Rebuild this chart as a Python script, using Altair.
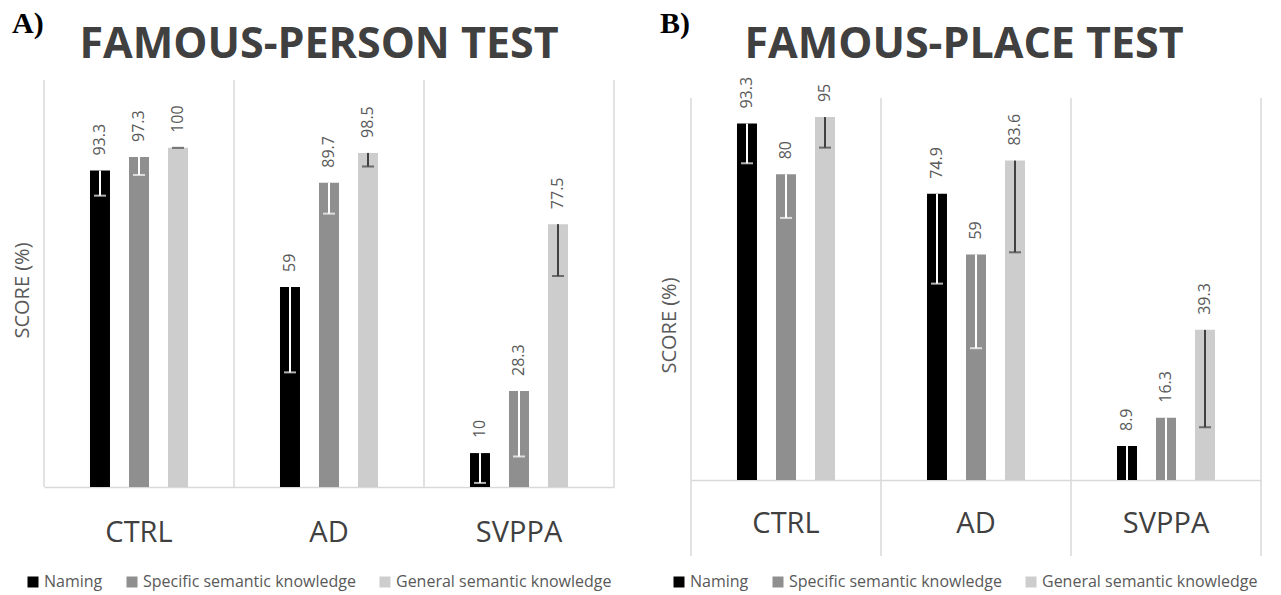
import altair as alt
import pandas as pd

groups = ["CTRL", "AD", "SVPPA"]
measures = ["Naming", "Specific semantic knowledge", "General semantic knowledge"]
bar_colors = ["#000000", "#8f8f8f", "#cdcdcd"]

# Famous-person test: mean scores and error (lower whisker length)
person_naming = [93.3, 59, 10]
person_specific = [97.3, 89.7, 28.3]
person_general = [100, 98.5, 77.5]
person_naming_err = [7.4, 25.2, 8.8]
person_specific_err = [5.3, 9.1, 19.3]
person_general_err = [0.0, 4.0, 15.3]

# Famous-place test
place_naming = [93.3, 74.9, 8.9]
place_specific = [80, 59, 16.3]
place_general = [95, 83.6, 39.3]
place_naming_err = [10.4, 23.5, 12.0]
place_specific_err = [11.4, 24.5, 18.0]
place_general_err = [8.0, 24.0, 25.5]

FONT = "Open Sans"
GRID = "#d9d9d9"


def build_frame(values, errors):
    rows = []
    for m, vals, errs in zip(measures, values, errors):
        for g, v, e in zip(groups, vals, errs):
            rows.append({"group": g, "measure": m, "value": v,
                         "low": max(0.0, v - e)})
    return pd.DataFrame(rows)


def panel(df, title, letter, ymax, height, top_value, line_bottom,
          title_x, title_y, legend_x, letter_x, letter_y, label_pad):
    width = 570
    yscale = alt.Scale(domain=[0, ymax], nice=False)
    yaxis = alt.Axis(labels=False, ticks=False, domain=False, grid=False,
                     titleFont=FONT, titleFontSize=20, titleFontWeight="normal",
                     titleColor="#595959", titlePadding=12, titleY=title_y)
    xscale = alt.Scale(domain=groups, paddingInner=0, paddingOuter=0)
    xaxis = alt.Axis(title=None, ticks=False, tickSize=0, grid=False,
                     domain=True, domainColor=GRID, domainWidth=1.5,
                     labelAngle=0, labelFont=FONT, labelFontSize=29,
                     labelColor="#404040", labelBaseline="middle",
                     labelPadding=label_pad)

    def X(band=None):
        if band is None:
            return alt.X("group:N", sort=groups, scale=xscale, axis=xaxis)
        return alt.X("group:N", sort=groups, scale=xscale, axis=xaxis,
                     bandPosition=band)

    def Y(field):
        return alt.Y(field, scale=yscale, axis=yaxis, title="SCORE (%)")

    xoff = alt.XOffset("measure:N", sort=measures,
                       scale=alt.Scale(domain=measures, paddingInner=0.13,
                                       paddingOuter=1))

    base = alt.Chart(df)
    gdf = pd.DataFrame({"group": groups})

    # light frame lines between the groups
    y2_enc = alt.Y2(datum=0) if line_bottom is None else alt.value(line_bottom)
    left_lines = alt.Chart(gdf).mark_rule(color=GRID, strokeWidth=1.5).encode(
        x=X(0), y=alt.Y(datum=top_value, scale=yscale, axis=yaxis, title="SCORE (%)"),
        y2=y2_enc)
    right_line = alt.Chart(gdf).transform_filter(
        alt.datum.group == groups[-1]).mark_rule(color=GRID, strokeWidth=1.5).encode(
        x=X(1), y=alt.Y(datum=top_value, scale=yscale, axis=yaxis, title="SCORE (%)"),
        y2=y2_enc)

    bars = base.mark_bar(width=20).encode(
        x=X(), xOffset=xoff, y=Y("value:Q"),
        color=alt.Color("measure:N", sort=measures,
                        scale=alt.Scale(domain=measures, range=bar_colors),
                        legend=alt.Legend(title=None, orient="none",
                                          legendX=legend_x, legendY=494,
                                          direction="horizontal",
                                          symbolType="square", symbolSize=121,
                                          symbolStrokeWidth=0,
                                          labelFont=FONT, labelFontSize=16,
                                          labelColor="#595959", labelLimit=400,
                                          columnPadding=21, labelOffset=3,
                                          symbolOffset=0)))

    dark_sel = alt.FieldOneOfPredicate(field="measure", oneOf=measures[:2])
    light_sel = alt.FieldEqualPredicate(field="measure", equal=measures[2])

    # minus-direction error bars with an end cap
    def whiskers(pred, color):
        sub = base.transform_filter(pred)
        rule = sub.mark_rule(color=color, strokeWidth=2).encode(
            x=X(), xOffset=xoff, y=Y("value:Q"), y2="low:Q")
        cap = sub.transform_filter(alt.datum.low > 0).mark_tick(
            color=color, size=12, thickness=2).encode(
            x=X(), xOffset=xoff, y=Y("low:Q"))
        return rule + cap

    labels = base.mark_text(angle=270, align="left", baseline="middle", dx=15,
                            font=FONT, fontSize=16, color="#595959").encode(
        x=X(), xOffset=xoff, y=Y("value:Q"),
        text=alt.Text("value:Q", format="~g"))

    letter_mark = alt.Chart(pd.DataFrame({"t": [letter]})).mark_text(
        align="left", baseline="alphabetic", font="Liberation Serif",
        fontWeight="bold", fontSize=30, color="#000000").encode(
        text="t:N", x=alt.value(letter_x), y=alt.value(letter_y))

    title_mark = alt.Chart(pd.DataFrame({"t": [title]})).mark_text(
        align="center", baseline="alphabetic", font=FONT, fontWeight="bold",
        fontSize=43, color="#404040").encode(
        text="t:N", x=alt.value(title_x), y=alt.value(-22))

    return alt.layer(left_lines, right_line, bars,
                     whiskers(dark_sel, "#ffffff"),
                     whiskers(light_sel, "#404040"),
                     labels, letter_mark, title_mark).properties(
        width=width, height=height)


person = build_frame([person_naming, person_specific, person_general],
                     [person_naming_err, person_specific_err, person_general_err])
place = build_frame([place_naming, place_specific, place_general],
                    [place_naming_err, place_specific_err, place_general_err])

left = panel(person, "FAMOUS-PERSON TEST", "A)", 120, 407, 120, None,
             275, 210, -19, -32, -47, 45)
right = panel(place, "FAMOUS-PLACE TEST", "B)", 104.7, 400, 100, 476,
              273, 245, -20, -31, -47, 43)

chart = alt.hconcat(left, right, spacing=44).resolve_legend(
    color="independent").configure_view(stroke=None).properties(
    background="#ffffff",
    padding={"left": 12, "top": 9, "right": 5, "bottom": 5})

chart.save("out.html", embed_options={"renderer": "svg", "actions": False})
